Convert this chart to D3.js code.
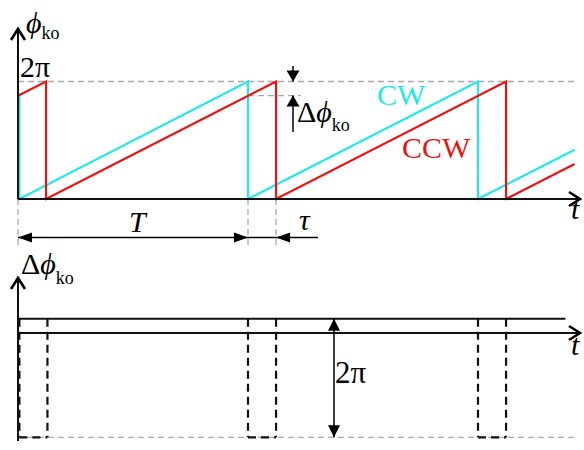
<!DOCTYPE html>
<html>
<head>
<meta charset="utf-8">
<script src="https://cdn.jsdelivr.net/npm/d3@7"></script>
<style>
html,body{margin:0;padding:0;background:#fff;}
svg{display:block;}
text{font-family:"Liberation Serif","Times New Roman",serif;}
</style>
</head>
<body>
<svg id="chart" width="584" height="450"></svg>
<script>
// ---- data (time in units of T, phase in units of 2π) ----
const period = 1;          // T
const tau = 0.122;         // delay τ / T
const deltaPhi = 0.12;     // Δφ_ko / 2π
const cwTimes  = [0.006, 0.006, 1, 1, 2, 2, 2.42];
const cwPhase  = [0.9,   0,     1, 0, 1, 0, 0.42];
const ccwTimes = [0, 0.122, 0.122, 1.122, 1.122, 2.122, 2.122, 2.42];
const ccwPhase = [0.878, 1, 0, 1, 0, 1, 0, 0.298];
const flipStarts = [0.006, 1, 2];          // CW resets, Δφ jumps down by 2π
const dphiLineTimes = [0, 2.38];
const labels = {cw: "CW", ccw: "CCW", twoPi: "2π", T: "T", tau: "τ", t: "t"};

const cyan = "#22e8e8", red = "#e81414";
const svg = d3.select("#chart");
const x = d3.scaleLinear().domain([0, period]).range([18, 248]);
const yTop = d3.scaleLinear().domain([0, 1]).range([199, 81.5]);
const yBot = d3.scaleLinear().domain([0, 1]).range([333, 214.5]);

const lineTop = d3.line().x(d => x(d[0])).y(d => yTop(d[1]));
const lineBot = d3.line().x(d => x(d[0])).y(d => yBot(d[1]));

function seg(x1, y1, x2, y2, stroke, w, dash) {
  svg.append("line").attr("x1", x1).attr("y1", y1).attr("x2", x2).attr("y2", y2)
    .attr("stroke", stroke).attr("stroke-width", w).attr("stroke-dasharray", dash || null);
}
function tri(tx, ty, dir, len, hw) {
  let p;
  if (dir === "l") p = [[tx, ty], [tx + len, ty - hw], [tx + len, ty + hw]];
  if (dir === "r") p = [[tx, ty], [tx - len, ty - hw], [tx - len, ty + hw]];
  if (dir === "u") p = [[tx, ty], [tx - hw, ty + len], [tx + hw, ty + len]];
  if (dir === "d") p = [[tx, ty], [tx - hw, ty - len], [tx + hw, ty - len]];
  svg.append("path").attr("d", "M" + p.map(q => q.join(",")).join("L") + "Z").attr("fill", "#000");
}
function chevron(tx, ty, dir) {
  let d;
  if (dir === "u") d = `M${tx - 7},${ty + 11}L${tx},${ty}L${tx + 7},${ty + 11}`;
  if (dir === "r") d = `M${tx - 11},${ty - 7}L${tx},${ty}L${tx - 11},${ty + 7}`;
  svg.append("path").attr("d", d).attr("fill", "none").attr("stroke", "#000")
    .attr("stroke-width", 2.6).attr("stroke-linejoin", "miter");
}
const grey = "#a8a8a8", gdash = "6,4";

// ================= TOP PANEL =================
seg(x(0), yTop(1), 575, yTop(1), grey, 1.3, gdash);
seg(x(1), yTop(1 - deltaPhi), 301, yTop(1 - deltaPhi), grey, 1.3, gdash);
[0, 1, 1 + tau].forEach(t => seg(x(t), yTop(0), x(t), 248, grey, 1.3, gdash));

svg.append("path").datum(d3.zip(cwTimes, cwPhase)).attr("d", lineTop)
  .attr("fill", "none").attr("stroke", cyan).attr("stroke-width", 2.2);
svg.append("path").datum(d3.zip(ccwTimes, ccwPhase)).attr("d", lineTop)
  .attr("fill", "none").attr("stroke", red).attr("stroke-width", 2.2);

seg(x(0), yTop(0), 580, yTop(0), "#111", 2);
chevron(580, yTop(0), "r");
seg(x(0), yTop(0), x(0), 30, "#111", 2);
chevron(x(0), 29, "u");

const yDim = 237.5;
seg(x(0), yDim, 318, yDim, "#000", 1.5);
tri(x(0), yDim, "l", 14, 5);
tri(x(1), yDim, "r", 14, 5);
tri(x(1 + tau), yDim, "l", 14, 5);

const ax = 293;
seg(ax, 66, ax, yTop(1), "#000", 1.5);
tri(ax, yTop(1), "d", 11, 6.5);
seg(ax, yTop(1 - deltaPhi), ax, 132, "#000", 1.5);
tri(ax, yTop(1 - deltaPhi), "u", 11, 6.5);

const phiLabel = (xx, yy, fs, subfs, sub, withDelta) => {
  const t = svg.append("text").attr("x", xx).attr("y", yy).attr("font-size", fs);
  if (withDelta) t.append("tspan").text("Δ");
  t.append("tspan").attr("font-style", "italic").text("ϕ");
  t.append("tspan").attr("font-size", subfs).attr("dy", sub).text("ko");
};
phiLabel(26, 33, 30, 18, 6, false);
svg.append("text").attr("x", 20).attr("y", 77).attr("font-size", 30).text(labels.twoPi);
svg.append("text").attr("x", 377).attr("y", 105).attr("font-size", 30).attr("fill", cyan).text(labels.cw);
svg.append("text").attr("x", 402).attr("y", 158).attr("font-size", 30).attr("fill", red).text(labels.ccw);
phiLabel(297, 122, 30, 18, 9, true);
svg.append("text").attr("x", 129).attr("y", 232).attr("font-size", 30).attr("font-style", "italic").text(labels.T);
svg.append("text").attr("x", 299).attr("y", 230).attr("font-size", 30).attr("font-style", "italic").text(labels.tau);
svg.append("text").attr("x", 571).attr("y", 219).attr("font-size", 30).attr("font-style", "italic").text(labels.t);

// ================= BOTTOM PANEL =================
seg(x(0), yBot(deltaPhi - 1), 575, yBot(deltaPhi - 1), grey, 1.3, gdash);
flipStarts.forEach(s => {
  [s, s + tau].forEach(t => seg(x(t), yBot(deltaPhi), x(t), yBot(deltaPhi - 1), "#111", 2.2, "8,5"));
  seg(x(s), yBot(deltaPhi - 1), x(s + tau), yBot(deltaPhi - 1), "#111", 2.2, "8,5");
});
svg.append("path").datum(dphiLineTimes.map(t => [t, deltaPhi])).attr("d", lineBot)
  .attr("fill", "none").attr("stroke", "#111").attr("stroke-width", 2);
seg(x(0), yBot(0), 580, yBot(0), "#111", 2);
chevron(580, yBot(0), "r");
seg(x(0), 441, x(0), 279, "#111", 2);
chevron(x(0), 278, "u");
const bx = 334;
seg(bx, yBot(deltaPhi), bx, yBot(deltaPhi - 1), "#000", 1.5);
tri(bx, yBot(deltaPhi), "u", 12, 6);
tri(bx, yBot(deltaPhi - 1), "d", 12, 6);

phiLabel(21, 274, 30, 18, 10, true);
svg.append("text").attr("x", 335).attr("y", 383).attr("font-size", 31).text(labels.twoPi);
svg.append("text").attr("x", 571).attr("y", 355).attr("font-size", 30).attr("font-style", "italic").text(labels.t);
</script>
</body>
</html>
